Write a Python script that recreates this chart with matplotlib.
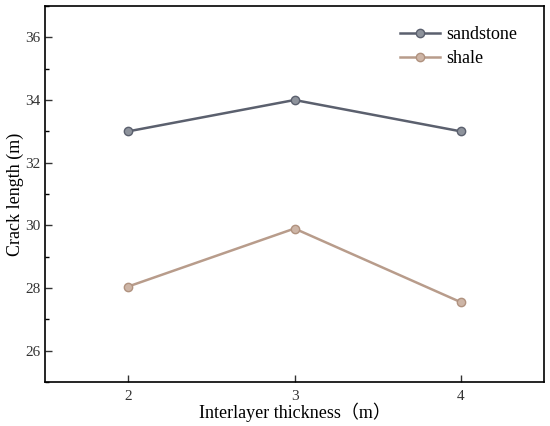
import matplotlib.pyplot as plt
from matplotlib.ticker import MultipleLocator

plt.rcParams['font.family'] = ['Liberation Serif', 'Noto Sans CJK SC']

thickness = [2, 3, 4]
sandstone = [33.0, 34.0, 33.0]
shale = [28.05, 29.9, 27.55]

fig = plt.figure(figsize=(5.5, 4.26), dpi=100)
ax = fig.add_axes([0.082, 0.103, 0.907, 0.883])

ax.plot(thickness, sandstone, color='#5b606e', lw=1.8, marker='o', ms=6,
        mfc='#8e939c', mec='#5b606e', mew=1.0, label='sandstone')
ax.plot(thickness, shale, color='#b89c8b', lw=1.8, marker='o', ms=6,
        mfc='#cdb5a6', mec='#b0927f', mew=1.0, label='shale')

ax.set_xlim(1.5, 4.5)
ax.set_ylim(25, 37)
ax.set_xticks(thickness)
ax.yaxis.set_major_locator(MultipleLocator(2))
ax.yaxis.set_minor_locator(MultipleLocator(1))
ax.tick_params(direction='in', labelsize=11, colors='#333333', length=5, width=1)
ax.tick_params(which='minor', direction='in', length=3, width=1)
ax.tick_params(axis='x', pad=6)
for s in ax.spines.values():
    s.set_linewidth(1.2)

ax.set_xlabel('Interlayer thickness（m）', fontsize=13, labelpad=-1)
ax.set_ylabel('Crack length (m)', fontsize=13, labelpad=1)

ax.legend(loc='upper right', frameon=False, fontsize=13, handlelength=2.2,
          bbox_to_anchor=(0.98, 0.99), labelspacing=0.4, handletextpad=0.4)

fig.savefig('out.png')
